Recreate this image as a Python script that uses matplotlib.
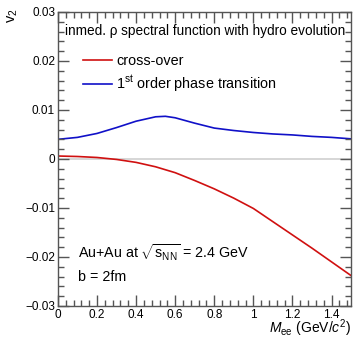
import matplotlib
matplotlib.use('Agg')
import matplotlib.pyplot as plt
from matplotlib.ticker import MultipleLocator

plt.rcParams['font.family'] = ['Liberation Sans', 'DejaVu Sans']
plt.rcParams['mathtext.fontset'] = 'custom'
plt.rcParams['mathtext.rm'] = 'Liberation Sans'
plt.rcParams['mathtext.it'] = 'Liberation Sans:italic'

# values
mass = [0.0, 0.1, 0.2, 0.3, 0.4, 0.5, 0.55, 0.6, 0.7, 0.8, 0.9, 1.0, 1.1, 1.2, 1.3, 1.4, 1.5]
v2_crossover = [0.0006, 0.0005, 0.0003, -0.0001, -0.0007, -0.0016, -0.0022, -0.0028, -0.0044,
                -0.0061, -0.0080, -0.0101, -0.0128, -0.0155, -0.0182, -0.0210, -0.0238]
v2_first_order = [0.0040, 0.0044, 0.0052, 0.0064, 0.0077, 0.0086, 0.0087, 0.0084, 0.0073,
                  0.0063, 0.0058, 0.0054, 0.0051, 0.0049, 0.0046, 0.0044, 0.0041]

fig = plt.figure(figsize=(3.55, 3.4), dpi=100)
ax = fig.add_axes([0.163, 0.1, 0.826, 0.865])

ax.axhline(0, color='#d0d0d0', lw=1.2, zorder=1)
ax.plot(mass, v2_crossover, color='#d01010', lw=1.2, label='cross-over')
ax.plot(mass, v2_first_order, color='#1010c8', lw=1.2,
        label=r'1$^{\mathrm{st}}$ order phase transition')

ax.set_xlim(0, 1.5)
ax.set_ylim(-0.03, 0.03)
ax.xaxis.set_major_locator(MultipleLocator(0.2))
ax.xaxis.set_minor_locator(MultipleLocator(0.04))
ax.yaxis.set_major_locator(MultipleLocator(0.01))
ax.yaxis.set_minor_locator(MultipleLocator(0.002))
ax.xaxis.set_major_formatter(plt.FuncFormatter(lambda v, p: '%g' % round(v, 2)))
ax.yaxis.set_major_formatter(plt.FuncFormatter(
    lambda v, p: ('%g' % round(v, 3)).replace('-', '\u2212')))

for s in ax.spines.values():
    s.set_color('#555555')
    s.set_linewidth(1.0)
ax.tick_params(which='both', direction='in', top=True, right=True,
               color='#555555', width=1.0, labelsize=8.5, pad=2)
ax.tick_params(which='major', length=8)
ax.tick_params(which='minor', length=4)
ax.xaxis.set_zorder(10)
ax.yaxis.set_zorder(10)

ax.text(0.025, 0.935, 'inmed. \u03c1 spectral function with hydro evolution',
        transform=ax.transAxes, fontsize=9.8, va='center')
ax.legend(loc='upper left', bbox_to_anchor=(0.065, 0.875), frameon=False,
          fontsize=10.4, handlelength=2.0, handletextpad=0.3, labelspacing=0.35,
          borderaxespad=0)
ax.text(0.068, 0.18, r'Au+Au at $\sqrt{\mathrm{s}_{\mathrm{NN}}}$ = 2.4 GeV',
        transform=ax.transAxes, fontsize=10.3, va='center')
ax.text(0.068, 0.1, 'b = 2fm', transform=ax.transAxes, fontsize=10.3, va='center')

fig.text(0.035, 0.955, r'v$_2$', rotation=90, fontsize=10.5, ha='center', va='center')
fig.text(0.99, 0.003, r'$M_{\mathrm{ee}}$ (GeV/$c^2$)', fontsize=10, ha='right', va='bottom')

fig.savefig('out.png', dpi=100)
